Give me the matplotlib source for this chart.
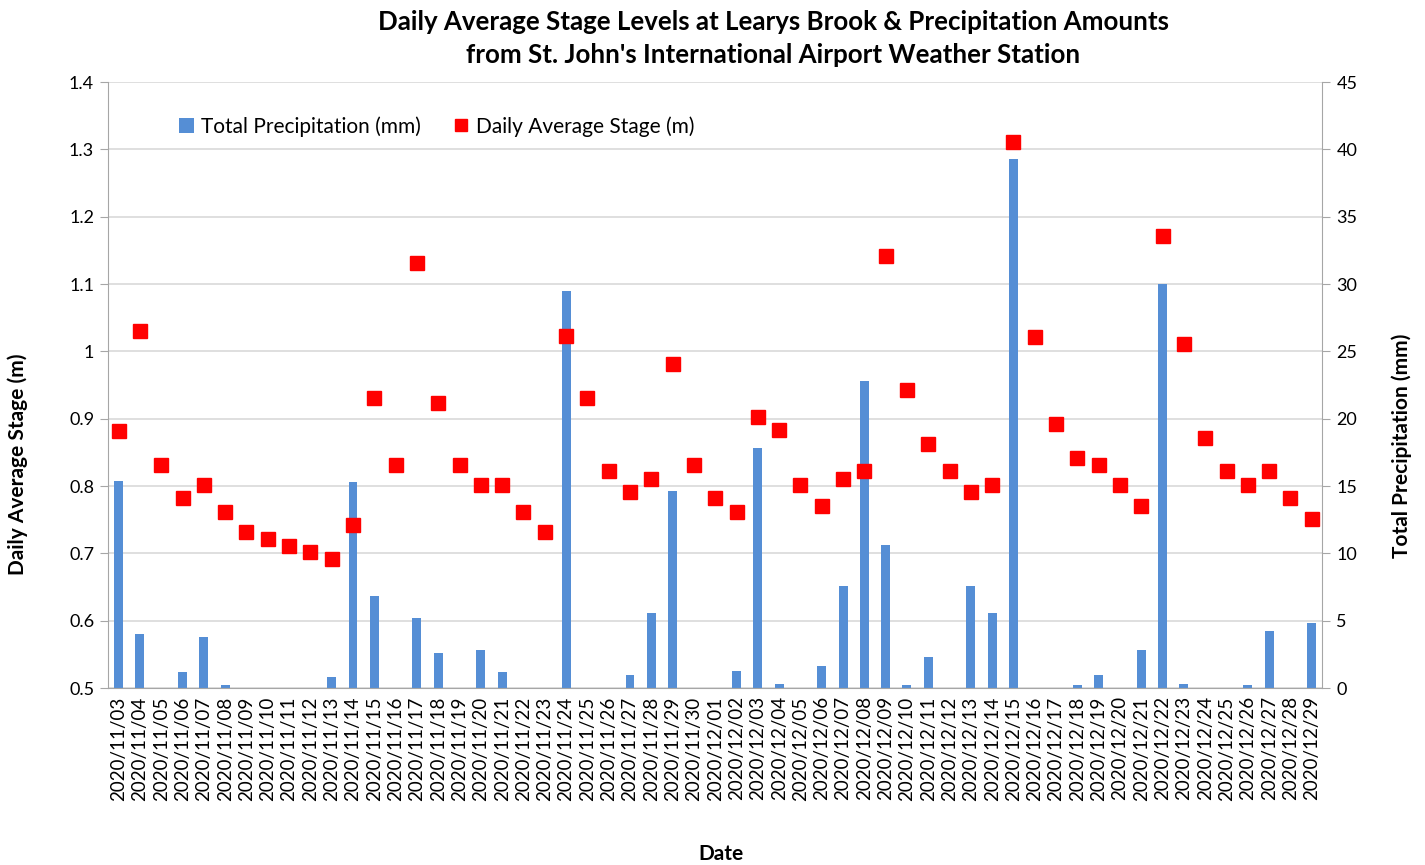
import matplotlib
matplotlib.use("Agg")
import matplotlib.pyplot as plt
import pandas as pd

dates = pd.date_range("2020-11-03", "2020-12-29", freq="D").strftime("%Y/%m/%d").tolist()

stage_m = [0.882, 1.031, 0.831, 0.782, 0.802, 0.762, 0.731, 0.722, 0.711, 0.702,
           0.691, 0.742, 0.931, 0.831, 1.131, 0.923, 0.831, 0.802, 0.802, 0.762,
           0.731, 1.023, 0.931, 0.822, 0.791, 0.811, 0.982, 0.831, 0.782, 0.762,
           0.902, 0.883, 0.802, 0.771, 0.811, 0.822, 1.142, 0.942, 0.863, 0.822,
           0.791, 0.802, 1.311, 1.022, 0.892, 0.842, 0.831, 0.802, 0.771, 1.171,
           1.011, 0.872, 0.822, 0.802, 0.822, 0.782, 0.751]

precip_mm = [15.4, 4.0, 0.0, 1.2, 3.8, 0.2, 0.0, 0.0, 0.0, 0.0,
             0.8, 15.3, 6.8, 0.0, 5.2, 2.6, 0.0, 2.8, 1.2, 0.0,
             0.0, 29.5, 0.0, 0.0, 1.0, 5.6, 14.6, 0.0, 0.0, 1.3,
             17.8, 0.3, 0.0, 1.6, 7.6, 22.8, 10.6, 0.2, 2.3, 0.0,
             7.6, 5.6, 39.3, 0.0, 0.0, 0.2, 1.0, 0.0, 2.8, 30.0,
             0.3, 0.0, 0.0, 0.2, 4.2, 0.0, 4.8]

FONT = ["Lato", "DejaVu Sans"]
plt.rcParams["font.family"] = FONT

fig = plt.figure(figsize=(14.25, 8.65), dpi=100)
ax2 = fig.add_axes([0.0758, 0.2046, 0.8522, 0.7005])
ax = ax2.twinx()
ax.set_zorder(ax2.get_zorder() + 1)
ax.patch.set_visible(False)

x = list(range(len(dates)))
bars = ax2.bar(x, precip_mm, width=0.42, color="#558ED5", label="Total Precipitation (mm)", zorder=2)
pts, = ax.plot(x, stage_m, linestyle="none", marker="s", markersize=10, color="#FF0000",
               markeredgecolor="#FF0000", label="Daily Average Stage (m)", zorder=3)

ax2.yaxis.tick_right()
ax2.yaxis.set_label_position("right")
ax.yaxis.tick_left()
ax.yaxis.set_label_position("left")

ax2.set_ylim(0, 45)
ax2.set_yticks(range(0, 46, 5))
ax.set_ylim(0.5, 1.4)
ax.set_yticks([0.5 + 0.1 * i for i in range(10)])
ax.set_yticklabels(["0.5", "0.6", "0.7", "0.8", "0.9", "1", "1.1", "1.2", "1.3", "1.4"])

ax2.set_xlim(-0.5, len(dates) - 0.5)
ax2.set_xticks(x)
ax2.set_xticklabels(dates, rotation=90, fontsize=13.5)
ax2.tick_params(axis="x", length=0, pad=6)

ax2.grid(axis="y", color="#D9D9D9", linewidth=1.2, zorder=0)
ax2.set_axisbelow(True)

for a in (ax, ax2):
    for s in a.spines.values():
        s.set_visible(False)
ax.spines["left"].set_visible(True)
ax.spines["left"].set_color("#A6A6A6")
ax2.spines["right"].set_visible(True)
ax2.spines["right"].set_color("#A6A6A6")
ax2.spines["bottom"].set_visible(True)
ax2.spines["bottom"].set_color("#A6A6A6")

ax.tick_params(axis="y", labelsize=13, length=6, color="#A6A6A6", pad=4)
ax2.tick_params(axis="y", labelsize=13, length=6, color="#A6A6A6", pad=4)

ax.set_ylabel("Daily Average Stage (m)", fontsize=15, fontweight="bold")
ax.yaxis.set_label_coords(-0.066, 0.37)
ax2.set_ylabel("Total Precipitation (mm)", fontsize=15, fontweight="bold")
ax2.yaxis.set_label_coords(1.057, 0.40)
ax2.set_xlabel("Date", fontsize=15, fontweight="bold", labelpad=31)
ax2.xaxis.label.set_x(0.505)

ax.legend(handles=[bars, pts], loc="upper left", bbox_to_anchor=(0.043, 0.975), ncol=2,
          frameon=False, fontsize=15, handlelength=0.7, handletextpad=0.35, columnspacing=1.6,
          markerscale=0.9)

fig.suptitle("Daily Average Stage Levels at Learys Brook & Precipitation Amounts\n"
             "from St. John's International Airport Weather Station",
             x=0.5425, y=0.988, fontsize=18.6, fontweight="bold", linespacing=1.45)

fig.savefig("out.png", dpi=100)
